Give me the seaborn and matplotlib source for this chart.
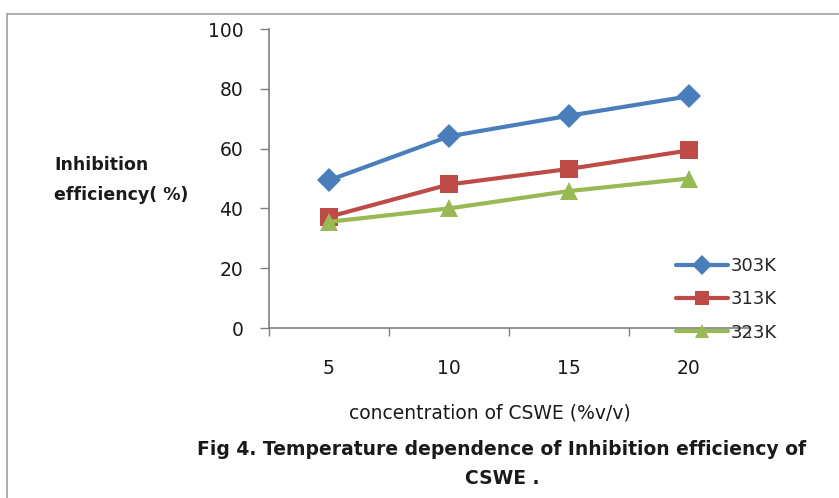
import matplotlib
matplotlib.use("Agg")
import matplotlib.pyplot as plt
import seaborn as sns
import pandas as pd
from matplotlib.lines import Line2D
from matplotlib.ticker import FixedLocator, NullFormatter

concentration = [5, 10, 15, 20]
ie_303 = [49.4, 64.1, 71.0, 77.5]
ie_313 = [37.2, 48.0, 53.2, 59.4]
ie_323 = [35.5, 40.0, 45.8, 50.0]
series_names = ["303K", "313K", "323K"]
y_ticks = [0, 20, 40, 60, 80, 100]

df = pd.DataFrame({
    "conc": concentration * 3,
    "ie": ie_303 + ie_313 + ie_323,
    "temp": [series_names[0]] * 4 + [series_names[1]] * 4 + [series_names[2]] * 4,
})

sns.set_style("white")
plt.rcParams["font.family"] = ["DejaVu Sans"]

W, H = 839, 498
fig = plt.figure(figsize=(W / 100, H / 100), dpi=100)
ax = fig.add_axes([269 / W, 1 - 328 / H, 480 / W, 299 / H])

palette = {"303K": "#4a7ebb", "313K": "#be4b48", "323K": "#98b954"}
markers = {"303K": "D", "313K": "s", "323K": "^"}
sns.lineplot(data=df, x="conc", y="ie", hue="temp", style="temp",
             palette=palette, markers=markers, dashes=False,
             linewidth=3, markersize=12.5, markeredgewidth=0, ax=ax)

ax.set_xlim(2.5, 22.5)
ax.set_ylim(0, 100)
ax.set_yticks(y_ticks)
ax.set_xticks(concentration)
ax.set_xticklabels([str(c) for c in concentration])
ax.xaxis.set_minor_locator(FixedLocator([2.5, 7.5, 12.5, 17.5, 22.5]))
ax.xaxis.set_minor_formatter(NullFormatter())
ax.tick_params(axis="x", which="major", length=0, pad=22, labelsize=13.5, colors="#1a1a1a")
ax.tick_params(axis="x", which="minor", length=6, width=1, color="#808080", bottom=True)
ax.tick_params(axis="y", length=6.5, width=1, color="#808080", left=True, pad=12, labelsize=13.5, colors="#1a1a1a")
for s in ["top", "right"]:
    ax.spines[s].set_visible(False)
for s in ["left", "bottom"]:
    ax.spines[s].set_color("#808080")
    ax.spines[s].set_linewidth(1.2)
ax.set_xlabel("")
ax.set_ylabel("")

handles, labels = ax.get_legend_handles_labels()
for h in handles:
    h.set_markersize(10)
ax.legend(handles, labels, loc="upper left", bbox_to_anchor=(676 / W, 1 - 257 / H),
          bbox_transform=fig.transFigure, frameon=False, fontsize=13,
          handlelength=2.9, handletextpad=0.15, labelspacing=0.85, borderaxespad=0,
          borderpad=0)

fig.text(54 / W, 1 - 180 / H, "Inhibition\nefficiency( %)", ha="left", va="center",
         multialignment="left", fontsize=12.5, fontweight="bold", color="#1a1a1a",
         linespacing=1.85)
fig.text(490 / W, 1 - 413 / H, "concentration of CSWE (%v/v)", ha="center", va="center",
         fontsize=13.5, color="#1a1a1a")
fig.text(502 / W, 1 - 464 / H, "Fig 4. Temperature dependence of Inhibition efficiency of\nCSWE .",
         ha="center", va="center", fontsize=13.5, fontweight="bold", color="#1a1a1a",
         linespacing=1.7)

fig.add_artist(Line2D([7 / W, 1], [1 - 14 / H, 1 - 14 / H], transform=fig.transFigure, color="#a0a0a0", lw=1.2))
fig.add_artist(Line2D([7 / W, 7 / W], [0, 1 - 14 / H], transform=fig.transFigure, color="#a0a0a0", lw=1.2))

fig.savefig("out.png", dpi=100)
